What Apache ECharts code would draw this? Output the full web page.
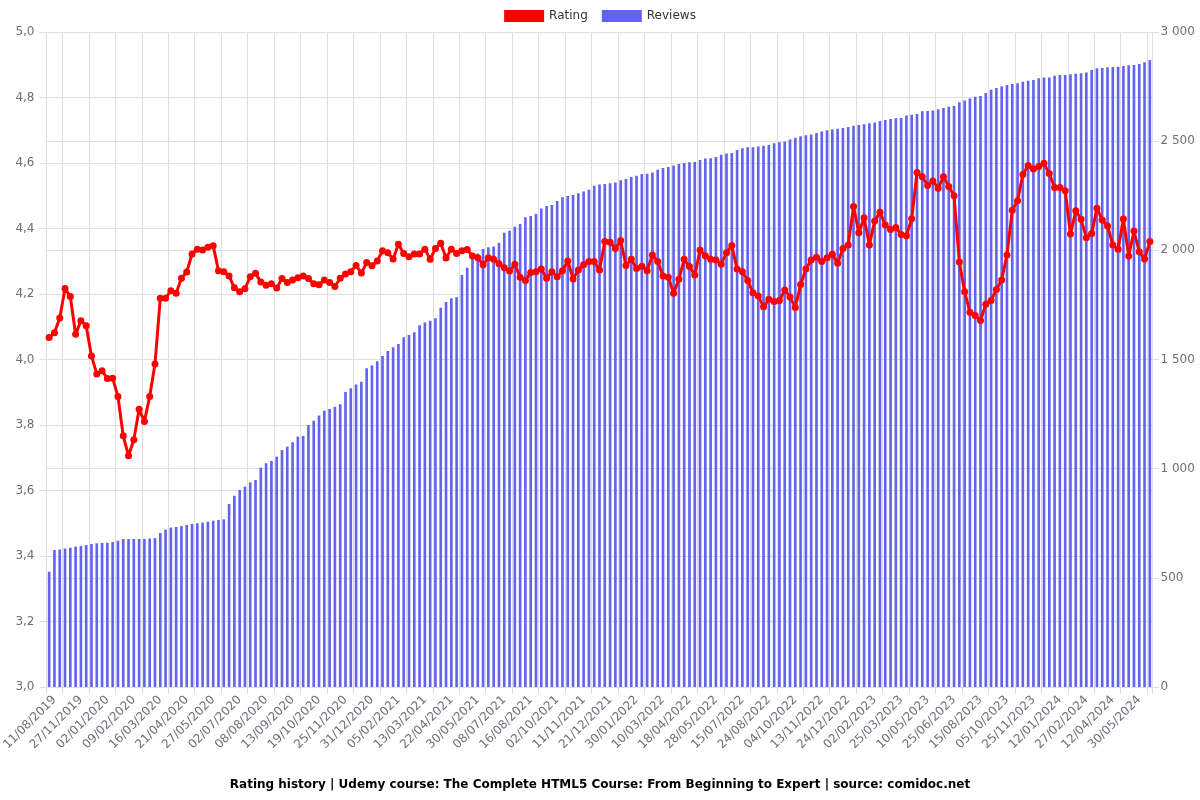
<!DOCTYPE html>
<html>
<head>
<meta charset="utf-8">
<script src="https://cdn.jsdelivr.net/npm/echarts@6/dist/echarts.min.js"></script>
<style>
html,body{margin:0;padding:0;background:#fff;}
#chart{width:1200px;height:800px;}
</style>
</head>
<body>
<div id="chart"></div>
<script>
// Visible x-axis tick labels (every 5th category, starting at the 2nd point)
const tickLabels = ["11/08/2019","27/11/2019","02/01/2020","09/02/2020","16/03/2020","21/04/2020","27/05/2020","02/07/2020","08/08/2020","13/09/2020","19/10/2020","25/11/2020","31/12/2020","05/02/2021","13/03/2021","22/04/2021","30/05/2021","08/07/2021","16/08/2021","02/10/2021","11/11/2021","21/12/2021","30/01/2022","10/03/2022","18/04/2022","28/05/2022","15/07/2022","24/08/2022","04/10/2022","13/11/2022","24/12/2022","02/02/2023","25/03/2023","10/05/2023","25/06/2023","15/08/2023","05/10/2023","25/11/2023","12/01/2024","27/02/2024","12/04/2024","30/05/2024"];

const ratings = [4.067,4.082,4.127,4.217,4.192,4.077,4.118,4.103,4.011,3.956,
3.966,3.942,3.943,3.887,3.767,3.706,3.755,3.848,3.811,3.887,
3.986,4.187,4.187,4.210,4.202,4.248,4.267,4.322,4.337,4.334,
4.343,4.347,4.271,4.268,4.255,4.219,4.207,4.216,4.253,4.263,
4.237,4.227,4.231,4.218,4.247,4.235,4.243,4.250,4.255,4.247,
4.231,4.228,4.243,4.235,4.223,4.248,4.261,4.268,4.287,4.264,
4.296,4.286,4.301,4.332,4.326,4.307,4.352,4.324,4.314,4.322,
4.322,4.337,4.306,4.339,4.355,4.310,4.337,4.324,4.332,4.336,
4.316,4.311,4.289,4.311,4.306,4.292,4.280,4.270,4.291,4.251,
4.241,4.266,4.268,4.276,4.248,4.268,4.253,4.271,4.301,4.246,
4.273,4.289,4.299,4.299,4.273,4.360,4.358,4.339,4.363,4.287,
4.306,4.278,4.285,4.271,4.319,4.299,4.255,4.251,4.202,4.245,
4.306,4.284,4.258,4.334,4.317,4.306,4.304,4.291,4.326,4.348,
4.276,4.268,4.241,4.204,4.194,4.161,4.184,4.177,4.180,4.212,
4.191,4.159,4.229,4.276,4.304,4.312,4.299,4.311,4.321,4.294,
4.339,4.350,4.467,4.387,4.433,4.350,4.423,4.450,4.411,4.397,
4.403,4.382,4.378,4.430,4.571,4.558,4.531,4.545,4.523,4.558,
4.528,4.500,4.298,4.207,4.144,4.134,4.119,4.169,4.180,4.214,
4.243,4.319,4.456,4.485,4.565,4.592,4.582,4.589,4.599,4.568,
4.525,4.525,4.515,4.383,4.454,4.428,4.372,4.385,4.462,4.426,
4.408,4.350,4.337,4.429,4.316,4.392,4.329,4.307,4.360];

const reviews = [528,627,630,634,638,643,646,650,655,658,
660,661,664,670,678,678,678,678,678,680,
682,705,721,730,733,737,742,747,750,753,
757,762,765,768,838,876,902,918,937,948,
1005,1025,1035,1055,1085,1101,1121,1147,1150,1200,
1220,1244,1265,1273,1284,1295,1351,1368,1386,1398,
1460,1472,1492,1516,1539,1556,1571,1602,1612,1625,
1657,1670,1678,1689,1737,1763,1780,1785,1887,1920,
1963,1986,2006,2014,2017,2035,2081,2090,2108,2121,
2151,2157,2166,2192,2203,2208,2226,2243,2249,2253,
2261,2269,2278,2296,2301,2304,2307,2311,2321,2327,
2336,2342,2350,2351,2356,2369,2377,2382,2389,2395,
2400,2403,2405,2414,2421,2422,2427,2438,2444,2446,
2460,2467,2472,2472,2476,2479,2482,2490,2495,2499,
2508,2516,2522,2527,2530,2537,2544,2550,2554,2557,
2560,2565,2571,2574,2577,2582,2586,2592,2597,2602,
2605,2606,2617,2621,2624,2637,2638,2641,2646,2652,
2658,2661,2678,2686,2695,2704,2707,2721,2736,2744,
2750,2757,2762,2765,2772,2777,2780,2788,2792,2792,
2800,2803,2803,2806,2809,2811,2815,2826,2834,2835,
2838,2840,2841,2844,2848,2849,2853,2861,2872];

// Category dates: the visible labels sit on points 1, 6, 11, ...; the dates in between
// are not readable, so they are filled with approximate dates for the category list only.
const DAY = 86400000;
function parseD(s){const p=s.split('/');return Date.UTC(+p[2],+p[1]-1,+p[0]);}
function fmtD(t){const d=new Date(t);const dd=String(d.getUTCDate()).padStart(2,'0');const mm=String(d.getUTCMonth()+1).padStart(2,'0');return dd+'/'+mm+'/'+d.getUTCFullYear();}
const categories = [fmtD(parseD(tickLabels[0]) - 7*DAY)];
for (let k=0;k<tickLabels.length;k++){
  categories.push(tickLabels[k]);
  const t0=parseD(tickLabels[k]);
  const t1 = k+1<tickLabels.length ? parseD(tickLabels[k+1]) : t0 + 35*DAY;
  for (let j=1;j<5 && categories.length<ratings.length;j++){
    categories.push(fmtD(t0 + Math.round((t1-t0)*j/5/DAY)*DAY));
  }
}

const FONT = 'DejaVu Sans';
const gridColor = '#dedede';
const chart = echarts.init(document.getElementById('chart'), null, {renderer:'canvas'});
const tickFn = function(idx){ return idx===0 || idx%5===3 || idx===categories.length; };
chart.setOption({
  animation:false,
  textStyle:{fontFamily:FONT},
  title:{
    text:'Rating history | Udemy course: The Complete HTML5 Course: From Beginning to Expert | source: comidoc.net',
    left:'center', bottom:4,
    textStyle:{fontSize:12,fontWeight:'bold',color:'#000',fontFamily:FONT}
  },
  legend:{
    top:5, left:'center', icon:'rect', itemWidth:40, itemHeight:12, itemGap:14,
    textStyle:{fontSize:12,color:'#333',fontFamily:FONT},
    data:['Rating','Reviews']
  },
  grid:{left:46.5, right:47.5, top:32, bottom:113, containLabel:false, outerBoundsMode:'none'},
  xAxis:{
    type:'category', data:categories, boundaryGap:true,
    axisLine:{show:true,lineStyle:{color:gridColor}},
    axisTick:{show:true,length:7,interval:tickFn,lineStyle:{color:gridColor}},
    splitLine:{show:true,interval:tickFn,lineStyle:{color:gridColor}},
    axisLabel:{interval:function(idx){return idx%5===1;},rotate:45,fontSize:12,color:'#6E7079',margin:11,fontFamily:FONT}
  },
  yAxis:[{
    type:'value', min:3, max:5, interval:0.2, position:'left',
    axisLine:{show:false},
    axisTick:{show:true,length:7,lineStyle:{color:gridColor}},
    splitLine:{show:true,lineStyle:{color:gridColor}},
    axisLabel:{fontSize:12,color:'#6E7079',margin:12,fontFamily:FONT,
      formatter:function(v){return v.toFixed(1).replace('.',',');}}
  },{
    type:'value', min:0, max:3000, interval:500, position:'right',
    axisLine:{show:false},
    axisTick:{show:true,length:7,lineStyle:{color:gridColor}},
    splitLine:{show:true,lineStyle:{color:gridColor}},
    axisLabel:{fontSize:12,color:'#6E7079',margin:8,fontFamily:FONT,
      formatter:function(v){return String(v).replace(/\B(?=(\d{3})+(?!\d))/g,' ');}}
  }],
  series:[{
    name:'Rating', type:'line', yAxisIndex:0, data:ratings,
    symbol:'circle', symbolSize:7, showSymbol:true, showAllSymbol:true,
    lineStyle:{color:'#ff0000',width:3},
    itemStyle:{color:'#ff0000'},
    z:3
  },{
    name:'Reviews', type:'bar', yAxisIndex:1, data:reviews,
    barWidth:'50%',
    itemStyle:{color:'#6363ee'},
    z:2
  }]
});
</script>
</body>
</html>
